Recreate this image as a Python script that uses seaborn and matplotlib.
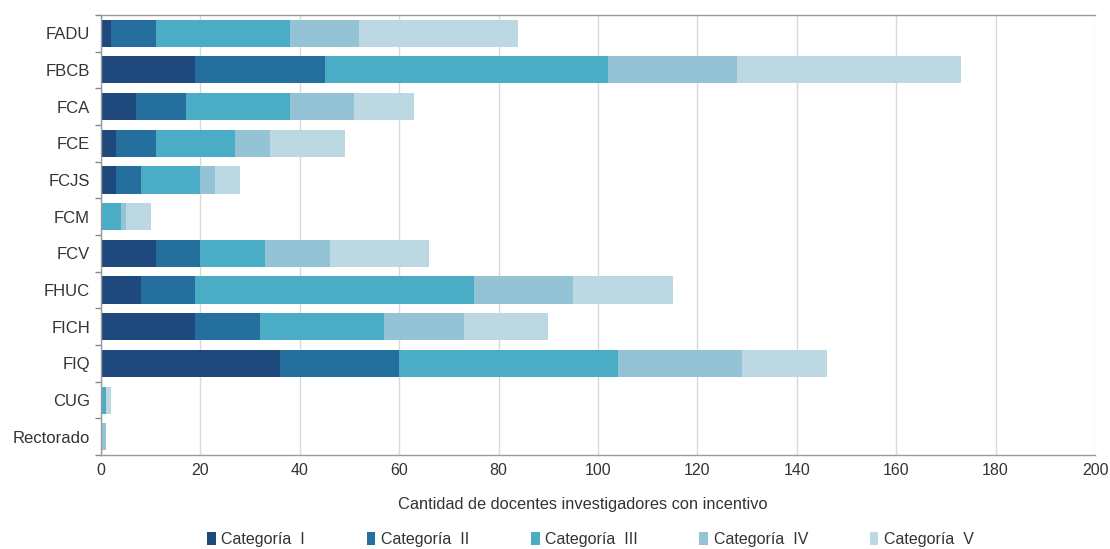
import pandas as pd
import numpy as np
import matplotlib
matplotlib.use("Agg")
import matplotlib.pyplot as plt
import seaborn as sns

unidades = ['FADU', 'FBCB', 'FCA', 'FCE', 'FCJS', 'FCM', 'FCV', 'FHUC',
            'FICH', 'FIQ', 'CUG', 'Rectorado']
cat_1 = [2, 19, 7, 3, 3, 0, 11, 8, 19, 36, 0, 0]
cat_2 = [9, 26, 10, 8, 5, 0, 9, 11, 13, 24, 0, 0]
cat_3 = [27, 57, 21, 16, 12, 4, 13, 56, 25, 44, 1, 0]
cat_4 = [14, 26, 13, 7, 3, 1, 13, 20, 16, 25, 0, 1]
cat_5 = [32, 45, 12, 15, 5, 5, 20, 20, 17, 17, 1, 0]
categorias = ['Categoría  I', 'Categoría  II', 'Categoría  III',
              'Categoría  IV', 'Categoría  V']
colores = ['#1f487c', '#256f9f', '#4bacc6', '#93c3d4', '#bcd8e3']

df = pd.DataFrame({'unidad': unidades, 'c1': cat_1, 'c2': cat_2,
                   'c3': cat_3, 'c4': cat_4, 'c5': cat_5})
cols = ['c1', 'c2', 'c3', 'c4', 'c5']
cum = df[cols].cumsum(axis=1)

sns.set_style('white')
plt.rcParams['font.family'] = ['Liberation Sans', 'DejaVu Sans']

fig = plt.figure(figsize=(11.1, 5.49), dpi=100)
ax = fig.add_axes([0.091, 0.171, 0.8955, 0.802])

# stacked bars: draw cumulative totals from the largest down
for i in reversed(range(5)):
    sns.barplot(x=cum[cols[i]], y=df['unidad'], color=colores[i],
                orient='h', width=0.74, ax=ax, label=categorias[i],
                saturation=1, edgecolor='none')

ax.set_xlim(0, 200)
ax.set_ylim(len(unidades) - 0.5, -0.5)
ax.set_xticks(np.arange(0, 201, 20))
ax.xaxis.grid(True, color='#d9d9d9', linewidth=1)
ax.set_axisbelow(True)
ax.set_ylabel('')
ax.set_xlabel('Cantidad de docentes investigadores con incentivo',
              fontsize=11.8, color='#333333', labelpad=12)
ax.xaxis.set_label_coords(0.485, -0.095)
ax.tick_params(axis='x', labelsize=11.5, colors='#333333', length=0, pad=6)
ax.tick_params(axis='y', labelsize=12, colors='#333333', length=0, pad=8)
ax.set_yticks(np.arange(-0.5, len(unidades), 1), minor=True)
ax.tick_params(axis='y', which='minor', left=True, length=4,
               color='#888888', direction='out', width=1)

for s in ['left', 'bottom', 'top']:
    ax.spines[s].set_color('#9a9a9a')
    ax.spines[s].set_linewidth(1)
ax.spines['right'].set_visible(False)

handles, labels = ax.get_legend_handles_labels()
order = [labels.index(c) for c in categorias]
ax.legend([handles[k] for k in order], [labels[k] for k in order],
          loc='center', bbox_to_anchor=(0.532, 0.017),
          bbox_transform=fig.transFigure, ncol=5,
          frameon=False, fontsize=11.5, handlelength=0.55, handleheight=0.9,
          handletextpad=0.35, columnspacing=3.85, labelcolor='#333333')

fig.savefig('out.png', dpi=100)
